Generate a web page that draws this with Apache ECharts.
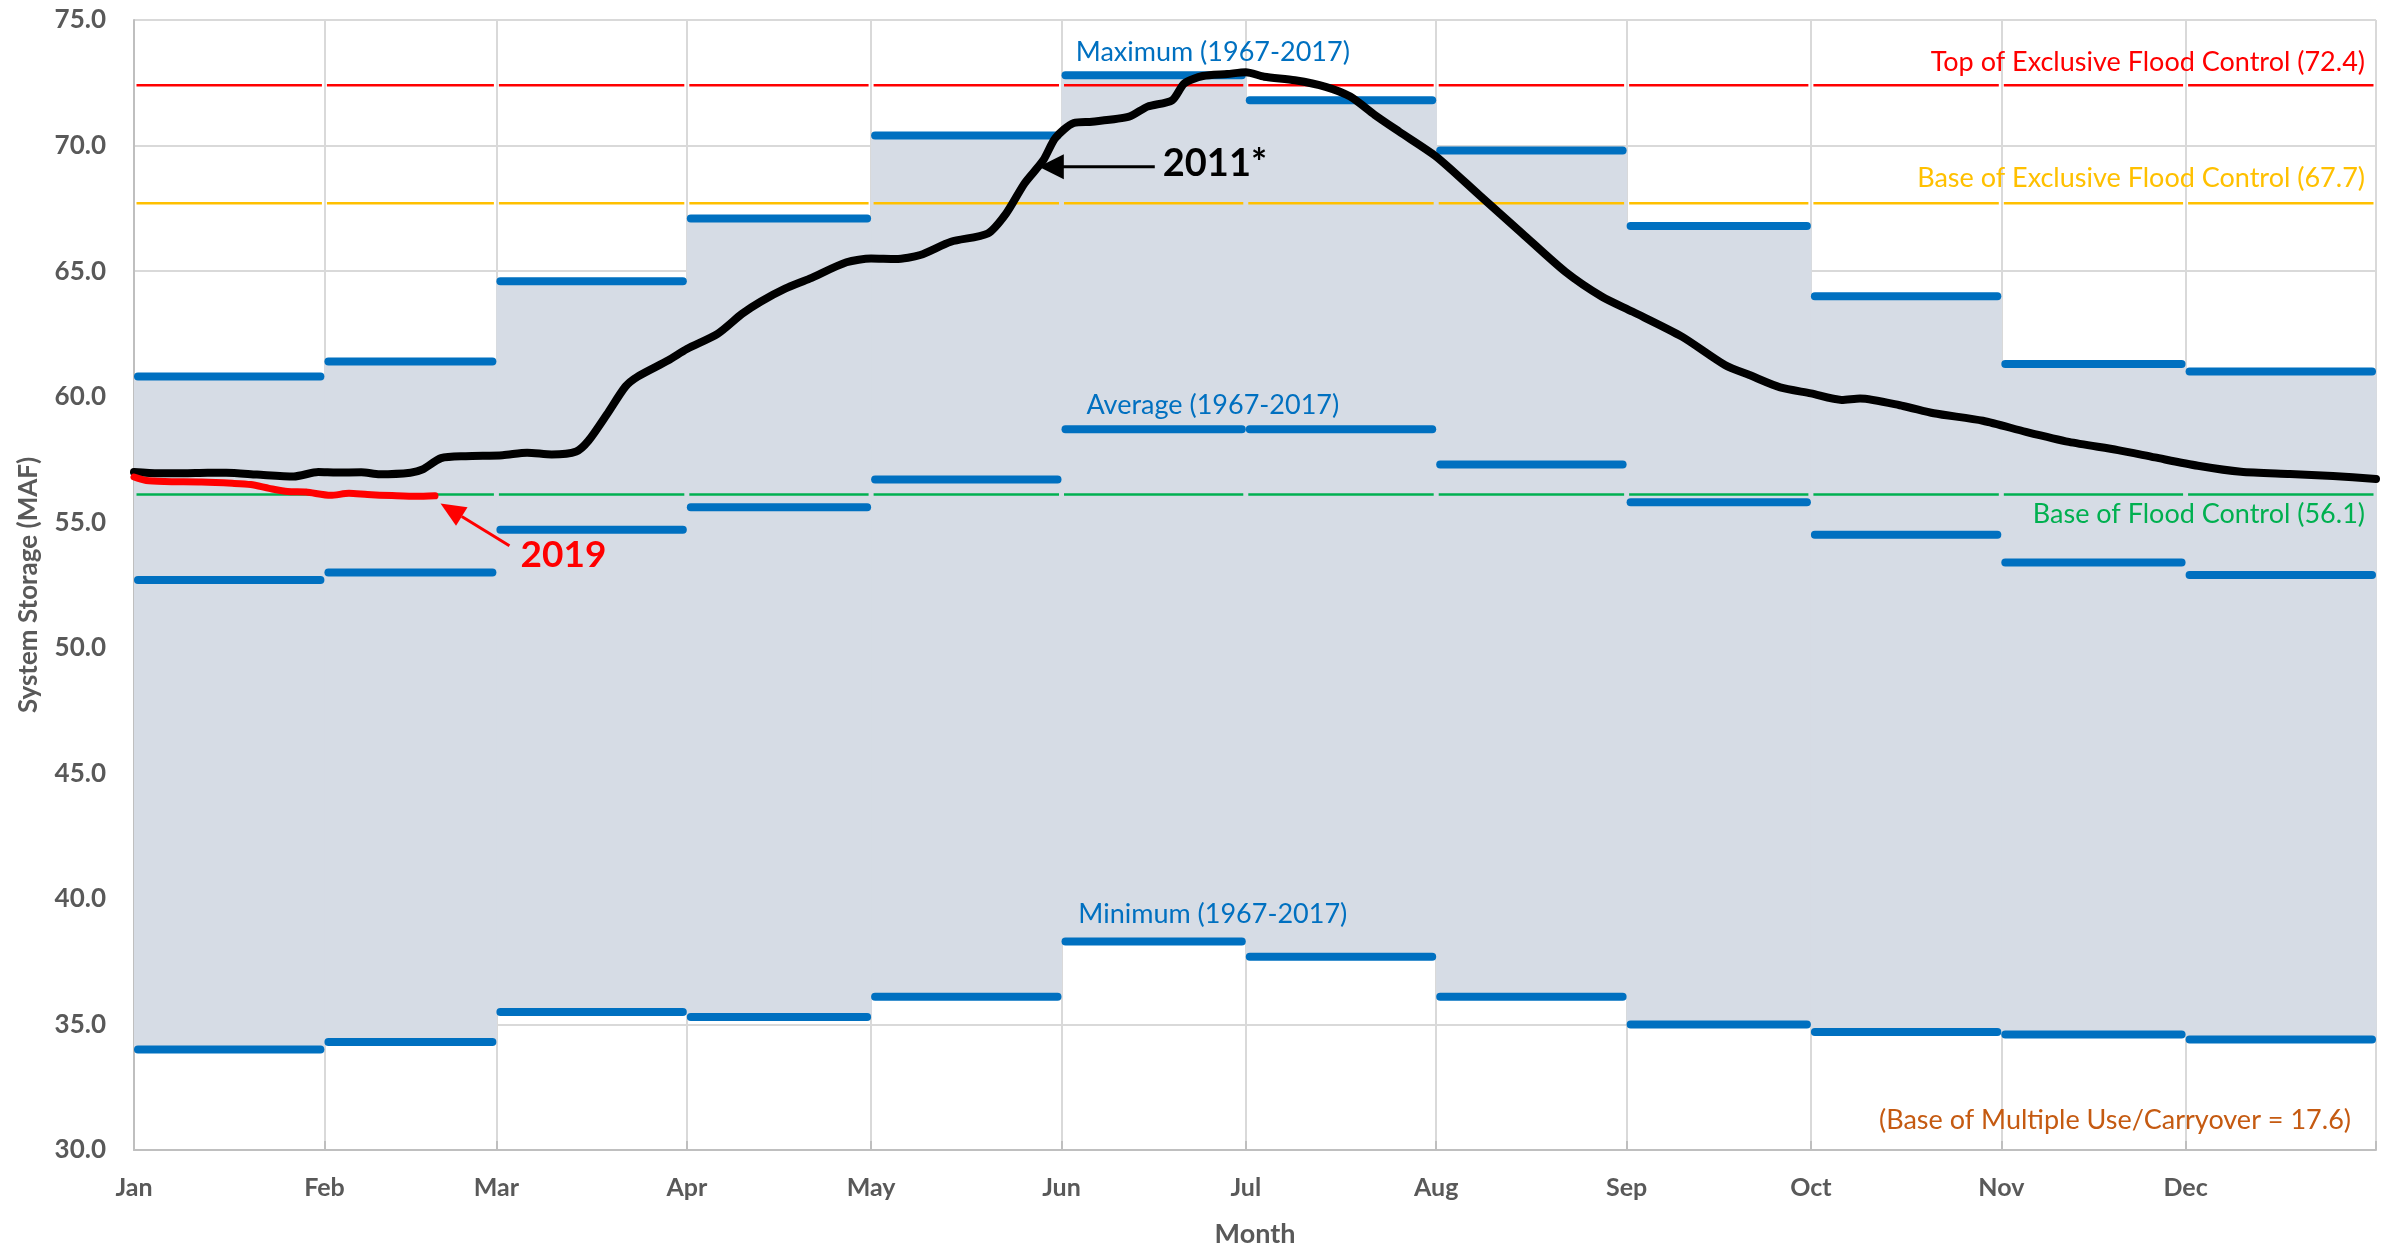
<!DOCTYPE html>
<html>
<head>
<meta charset="utf-8">
<script src="https://cdn.jsdelivr.net/npm/echarts@6/dist/echarts.min.js"></script>
<style>
  html, body { margin: 0; padding: 0; background: #ffffff; }
  #chart { width: 2389px; height: 1248px; }
</style>
</head>
<body>
<div id="chart"></div>
<script>
// Calendar months on a day-of-year axis
const monthNames = ['Jan', 'Feb', 'Mar', 'Apr', 'May', 'Jun', 'Jul', 'Aug', 'Sep', 'Oct', 'Nov', 'Dec'];
const monthStart = [0, 31, 59, 90, 120, 151, 181, 212, 243, 273, 304, 334];
const monthEnd   = [31, 59, 90, 120, 151, 181, 212, 243, 273, 304, 334, 365];

// Monthly system storage statistics, 1967-2017 (MAF)
const maximumStorage = [60.8, 61.4, 64.6, 67.1, 70.4, 72.8, 71.8, 69.8, 66.8, 64.0, 61.3, 61.0];
const averageStorage = [52.7, 53.0, 54.7, 55.6, 56.7, 58.7, 58.7, 57.3, 55.8, 54.5, 53.4, 52.9];
const minimumStorage = [34.0, 34.3, 35.5, 35.3, 36.1, 38.3, 37.7, 36.1, 35.0, 34.7, 34.6, 34.4];
const statPeriod = '1967-2017';

// Operating zones (MAF)
const zoneNames  = ['Top of Exclusive Flood Control', 'Base of Exclusive Flood Control', 'Base of Flood Control'];
const zoneValues = [72.4, 67.7, 56.1];
const zoneColors = ['#FF0000', '#FFC000', '#00B050'];
const carryoverBase = 17.6;

// Y axis range and ticks
const yMin = 30, yMax = 75, yStep = 5;

// 2011 daily storage (day of year, MAF)
const days2011 = [0, 4, 8, 12, 15, 20, 26, 30, 33, 37, 40, 45, 47, 50, 54, 60, 64, 68, 72, 74, 77, 80, 82, 87, 90,
  95, 99, 102, 106, 110, 116, 120, 124, 128, 133, 139, 142, 145, 148, 150, 153, 156, 162, 165, 169, 171, 174, 178,
  181, 184, 189, 194, 198, 202, 206, 212, 219, 226, 233, 239, 244, 252, 259, 263, 268, 273, 278, 281, 288, 293, 301,
  308, 315, 323, 329, 336, 343, 351, 358, 365];
const storage2011 = [57.0, 56.95, 56.95, 56.97, 56.97, 56.9, 56.82, 57.0, 56.98, 56.99, 56.91, 56.97, 57.1, 57.55, 57.63,
  57.67, 57.77, 57.7, 57.82, 58.25, 59.3, 60.4, 60.8, 61.45, 61.9,
  62.5, 63.3, 63.78, 64.3, 64.7, 65.35, 65.5, 65.48, 65.64, 66.17, 66.5, 67.3, 68.5, 69.4, 70.3, 70.9, 70.95, 71.15,
  71.55, 71.8, 72.48, 72.77, 72.85,
  72.92, 72.74, 72.6, 72.34, 71.95, 71.22, 70.55, 69.56, 68.03, 66.5, 64.98, 63.98, 63.38, 62.39, 61.26, 60.86, 60.37,
  60.13, 59.87, 59.93, 59.63, 59.34, 59.04,
  58.6, 58.2, 57.87, 57.58, 57.25, 57.01, 56.92, 56.84, 56.72];

// 2019 daily storage to date (day of year, MAF)
const days2019 = [0, 2, 5, 11, 16, 19, 22, 25, 28, 32, 35, 38, 42, 46, 49];
const storage2019 = [56.8, 56.66, 56.62, 56.6, 56.55, 56.5, 56.35, 56.22, 56.2, 56.07, 56.15, 56.1, 56.06, 56.03, 56.05];

const FONT = 'Lato, "Open Sans", "Noto Sans", sans-serif';
const GREY = '#595959';

const zip = (xs, ys) => xs.map((x, i) => [x, ys[i]]);

// Shaded band between the monthly minimum and maximum
const bandRows = monthStart.map((s, i) => [s, monthEnd[i], minimumStorage[i], maximumStorage[i]]);

function bandItem(params, api) {
  const tl = api.coord([api.value(0), api.value(3)]);
  const br = api.coord([api.value(1), api.value(2)]);
  return {
    type: 'rect',
    shape: { x: tl[0], y: tl[1], width: br[0] - tl[0] + 0.6, height: br[1] - tl[1] },
    style: { fill: '#D6DCE5' }
  };
}

// Monthly statistic as a rounded horizontal bar
function statItem(params, api) {
  const a = api.coord([api.value(0), api.value(2)]);
  const b = api.coord([api.value(1), api.value(2)]);
  return {
    type: 'line',
    shape: { x1: a[0] + 4, y1: a[1], x2: b[0] - 4, y2: b[1] },
    style: { stroke: '#0070C0', lineWidth: 8, lineCap: 'round' }
  };
}

function statSeries(name, values) {
  return {
    name: name,
    type: 'custom',
    renderItem: statItem,
    encode: { x: [0, 1], y: 2 },
    data: monthStart.map((s, i) => [s, monthEnd[i], values[i]]),
    silent: true
  };
}

// Zone levels drawn month by month, leaving a small gap at each month line
const zoneRows = [];
zoneValues.forEach((v, k) => {
  monthStart.forEach((s, i) => zoneRows.push([s, monthEnd[i], v, k]));
});

function zoneItem(params, api) {
  const a = api.coord([api.value(0), api.value(2)]);
  const b = api.coord([api.value(1), api.value(2)]);
  return {
    type: 'line',
    shape: { x1: a[0] + 2.5, y1: a[1], x2: b[0] - 2.5, y2: b[1] },
    style: { stroke: zoneColors[api.value(3)], lineWidth: 2.5 }
  };
}

const chart = echarts.init(document.getElementById('chart'), null, { renderer: 'canvas' });

chart.setOption({
  animation: false,
  backgroundColor: '#ffffff',
  textStyle: { fontFamily: FONT },
  grid: { left: 134, right: 13, top: 20, bottom: 98, containLabel: false, outerBoundsMode: 'none' },
  xAxis: {
    type: 'value',
    min: 0,
    max: 365,
    name: 'Month',
    nameLocation: 'middle',
    nameGap: 71,
    nameTextStyle: { fontFamily: FONT, fontSize: 27, fontWeight: 'bold', color: GREY },
    axisLine: { show: true, onZero: false, lineStyle: { color: '#BFBFBF', width: 2 } },
    axisTick: {
      show: true, inside: true, length: 9,
      customValues: monthStart.concat([365]),
      lineStyle: { color: '#BFBFBF', width: 2 }
    },
    axisLabel: {
      customValues: monthStart,
      formatter: v => monthNames[monthStart.indexOf(v)],
      fontFamily: FONT, fontSize: 25, fontWeight: 'bold', color: GREY, margin: 25
    },
    splitLine: { show: true, lineStyle: { color: '#D9D9D9', width: 2 } }
  },
  yAxis: {
    type: 'value',
    min: yMin,
    max: yMax,
    interval: yStep,
    name: 'System Storage (MAF)',
    nameLocation: 'middle',
    nameGap: 92,
    nameRotate: 90,
    nameTextStyle: { fontFamily: FONT, fontSize: 26, fontWeight: 'bold', color: GREY },
    axisLine: { show: true, lineStyle: { color: '#BFBFBF', width: 2 } },
    axisTick: { show: false },
    axisLabel: {
      formatter: v => v.toFixed(1),
      fontFamily: FONT, fontSize: 26, fontWeight: 'bold', color: GREY, margin: 28
    },
    splitLine: { show: true, lineStyle: { color: '#D9D9D9', width: 2 } }
  },
  series: [
    {
      name: 'Range',
      type: 'custom',
      renderItem: bandItem,
      encode: { x: [0, 1], y: [2, 3] },
      data: bandRows,
      silent: true
    },
    {
      name: 'Zones',
      type: 'custom',
      renderItem: zoneItem,
      encode: { x: [0, 1], y: 2 },
      data: zoneRows,
      silent: true
    },
    statSeries('Maximum', maximumStorage),
    statSeries('Average', averageStorage),
    statSeries('Minimum', minimumStorage),
    {
      name: '2011',
      type: 'line',
      data: zip(days2011, storage2011),
      symbol: 'none',
      smooth: 0.25,
      lineStyle: { color: '#000000', width: 8, cap: 'round', join: 'round' },
      silent: true
    },
    {
      name: '2019',
      type: 'line',
      data: zip(days2019, storage2019),
      symbol: 'none',
      smooth: 0.25,
      lineStyle: { color: '#FF0000', width: 7, cap: 'round', join: 'round' },
      silent: true
    }
  ]
});

// Annotations placed relative to the axes
const px = (x, y) => chart.convertToPixel({ gridIndex: 0 }, [x, y]);
const graphics = [];

function label(text, x, y, color, size, align, weight) {
  graphics.push({
    type: 'text', x: x, y: y, z: 50,
    style: {
      text: text, fill: color, align: align, verticalAlign: 'middle',
      font: (weight || 'normal') + ' ' + size + 'px ' + FONT
    }
  });
}

// Zone labels at the right edge
const rightX = px(365, yMin)[0] - 11;
const zoneOffsets = [-23, -25, 20];
zoneValues.forEach((v, k) => {
  label(zoneNames[k] + ' (' + v.toFixed(1) + ')', rightX, px(0, v)[1] + zoneOffsets[k], zoneColors[k], 27, 'right');
});
label('(Base of Multiple Use/Carryover = ' + carryoverBase.toFixed(1) + ')', rightX - 14, px(0, yMin)[1] - 30, '#C55A11', 27, 'right');

// Statistic labels above the June bars
const statX = px(monthStart[6], yMin)[0] - 33;
label('Maximum (' + statPeriod + ')', statX, px(0, maximumStorage[5])[1] - 23, '#0070C0', 27, 'center');
label('Average (' + statPeriod + ')', statX, px(0, averageStorage[5])[1] - 24, '#0070C0', 27, 'center');
label('Minimum (' + statPeriod + ')', statX, px(0, minimumStorage[5])[1] - 27, '#0070C0', 27, 'center');

// 2011 pointer
const tip11 = px(147.3, 69.16);
graphics.push({ type: 'line', z: 50, shape: { x1: tip11[0] + 20, y1: tip11[1], x2: tip11[0] + 116, y2: tip11[1] }, style: { stroke: '#000', lineWidth: 3 } });
graphics.push({ type: 'polygon', z: 50, shape: { points: [[tip11[0], tip11[1]], [tip11[0] + 25, tip11[1] - 12.5], [tip11[0] + 25, tip11[1] + 12.5]] }, style: { fill: '#000' } });
label('2011*', tip11[0] + 124, tip11[1] - 3, '#000000', 38, 'left', 'bold');

// 2019 pointer
const tip19 = px(49.9, 55.75);
const ux = 0.851, uy = 0.524;
const hb = [tip19[0] + 25 * ux, tip19[1] + 25 * uy];
graphics.push({ type: 'line', z: 50, shape: { x1: hb[0], y1: hb[1], x2: tip19[0] + 81 * ux, y2: tip19[1] + 81 * uy }, style: { stroke: '#FF0000', lineWidth: 3 } });
graphics.push({ type: 'polygon', z: 50, shape: { points: [[tip19[0], tip19[1]], [hb[0] - 11 * uy, hb[1] + 11 * ux], [hb[0] + 11 * uy, hb[1] - 11 * ux]] }, style: { fill: '#FF0000' } });
label('2019', tip19[0] + 80, tip19[1] + 52, '#FF0000', 37, 'left', 'bold');

chart.setOption({ graphic: graphics });
</script>
</body>
</html>
